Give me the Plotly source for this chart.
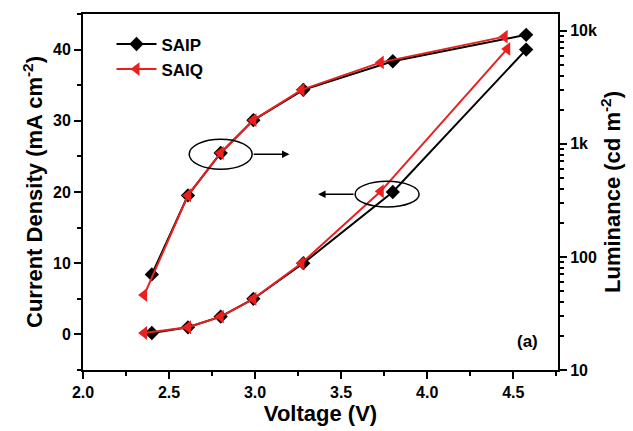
import plotly.graph_objects as go

# Current density (left axis)
v_j_saip = [2.40, 2.61, 2.80, 2.99, 3.28, 3.80, 4.575]
j_saip = [0.2, 1.0, 2.5, 5.0, 10.0, 20.0, 40.0]
v_j_saiq = [2.355, 2.61, 2.80, 2.99, 3.27, 3.73, 4.465]
j_saiq = [0.2, 1.0, 2.5, 5.0, 10.0, 20.1, 40.1]

# Luminance (right axis, log)
v_l_saip = [2.40, 2.61, 2.80, 2.99, 3.28, 3.80, 4.575]
l_saip = [70, 350, 830, 1620, 3000, 5370, 9200]
v_l_saiq = [2.355, 2.61, 2.80, 2.99, 3.27, 3.73, 4.45]
l_saiq = [46, 350, 830, 1620, 3000, 5250, 8870]

lum_ticks = [10, 100, 1000, 10000]
lum_ticktext = ["<b>10</b>", "<b>100</b>", "<b>1k</b>", "<b>10k</b>"]
lum_minor = [m * 10 ** d for d in range(1, 4) for m in range(2, 10)] + [2e4]

FONT = "Arial, Liberation Sans, sans-serif"
BLACK = "#000000"
RED = "#e8201e"

fig = go.Figure()

fig.add_trace(go.Scatter(x=v_j_saip, y=j_saip, mode="lines+markers", name="<b>SAIP</b>",
                         line=dict(color=BLACK, width=2),
                         marker=dict(symbol="diamond", size=11, color=BLACK),
                         showlegend=True, legendgroup="p"))
fig.add_trace(go.Scatter(x=v_l_saip, y=l_saip, mode="lines+markers", name="SAIP",
                         line=dict(color=BLACK, width=2),
                         marker=dict(symbol="diamond", size=11, color=BLACK),
                         showlegend=False, legendgroup="p", yaxis="y2"))
fig.add_trace(go.Scatter(x=v_j_saiq, y=j_saiq, mode="lines+markers", name="<b>SAIQ</b>",
                         line=dict(color=RED, width=2),
                         marker=dict(symbol="triangle-left", size=12, color=RED),
                         showlegend=True, legendgroup="q"))
fig.add_trace(go.Scatter(x=v_l_saiq, y=l_saiq, mode="lines+markers", name="SAIQ",
                         line=dict(color=RED, width=2),
                         marker=dict(symbol="triangle-left", size=12, color=RED),
                         showlegend=False, legendgroup="q", yaxis="y2"))

# ellipses
fig.add_shape(type="circle", xref="x", yref="y", x0=2.617, x1=2.983, y0=23.2, y1=27.4,
              line=dict(color=BLACK, width=1.5))
fig.add_shape(type="circle", xref="x", yref="y", x0=3.581, x1=3.953, y0=17.9, y1=21.5,
              line=dict(color=BLACK, width=1.5))
# arrows
fig.add_annotation(x=3.20, y=25.3, ax=2.983, ay=25.3, xref="x", yref="y", axref="x", ayref="y",
                   showarrow=True, arrowhead=2, arrowsize=1, arrowwidth=1.5, arrowcolor=BLACK, text="")
fig.add_annotation(x=3.366, y=19.7, ax=3.581, ay=19.7, xref="x", yref="y", axref="x", ayref="y",
                   showarrow=True, arrowhead=2, arrowsize=1, arrowwidth=1.5, arrowcolor=BLACK, text="")
fig.add_annotation(x=4.585, y=-1.0, xref="x", yref="y", text="<b>(a)</b>", showarrow=False,
                   font=dict(family=FONT, size=17, color=BLACK))

TICKFONT = dict(family=FONT, size=16, color=BLACK)
TITLEFONT = dict(family=FONT, size=22, color=BLACK)

axis_common = dict(showline=True, linecolor=BLACK, linewidth=2, ticks="outside",
                   tickcolor=BLACK, tickwidth=2, ticklen=7, showgrid=False, zeroline=False,
                   tickfont=TICKFONT)

fig.update_layout(
    width=633, height=431,
    margin=dict(l=83, r=75, t=13, b=57),
    paper_bgcolor="white", plot_bgcolor="white",
    font=dict(family=FONT, color=BLACK),
    xaxis=dict(range=[2.0, 4.76], dtick=0.5, tick0=2.0, tickformat=".1f", mirror=True,
               tickprefix="<b>", ticksuffix="</b>",
               minor=dict(ticks="outside", dtick=0.25, tick0=2.0, ticklen=4, tickwidth=2, tickcolor=BLACK),
               title=dict(text="<b>Voltage (V)</b>", font=TITLEFONT, standoff=2),
               **axis_common),
    yaxis=dict(range=[-5, 45], dtick=10, tick0=0,
               tickprefix="<b>", ticksuffix="</b>",
               minor=dict(ticks="outside", dtick=5, tick0=0, ticklen=4, tickwidth=2, tickcolor=BLACK),
               title=dict(text="<b>Current Density (mA cm<sup>-2</sup>)</b>", font=TITLEFONT, standoff=4),
               **axis_common),
    yaxis2=dict(type="log", overlaying="y", side="right", range=[1, 4.148],
                tickvals=lum_ticks, ticktext=lum_ticktext,
                minor=dict(ticks="outside", tickvals=lum_minor, ticklen=4, tickwidth=1.5, tickcolor=BLACK),
                title=dict(text="<b>Luminance (cd m<sup>-2</sup>)</b>", font=TITLEFONT, standoff=6),
                **axis_common),
    legend=dict(x=0.06, y=0.965, xanchor="left", yanchor="top", bgcolor="rgba(0,0,0,0)",
                font=dict(family=FONT, size=17, color=BLACK), tracegroupgap=0,
                itemwidth=40),
)

fig.write_html("out.html")
